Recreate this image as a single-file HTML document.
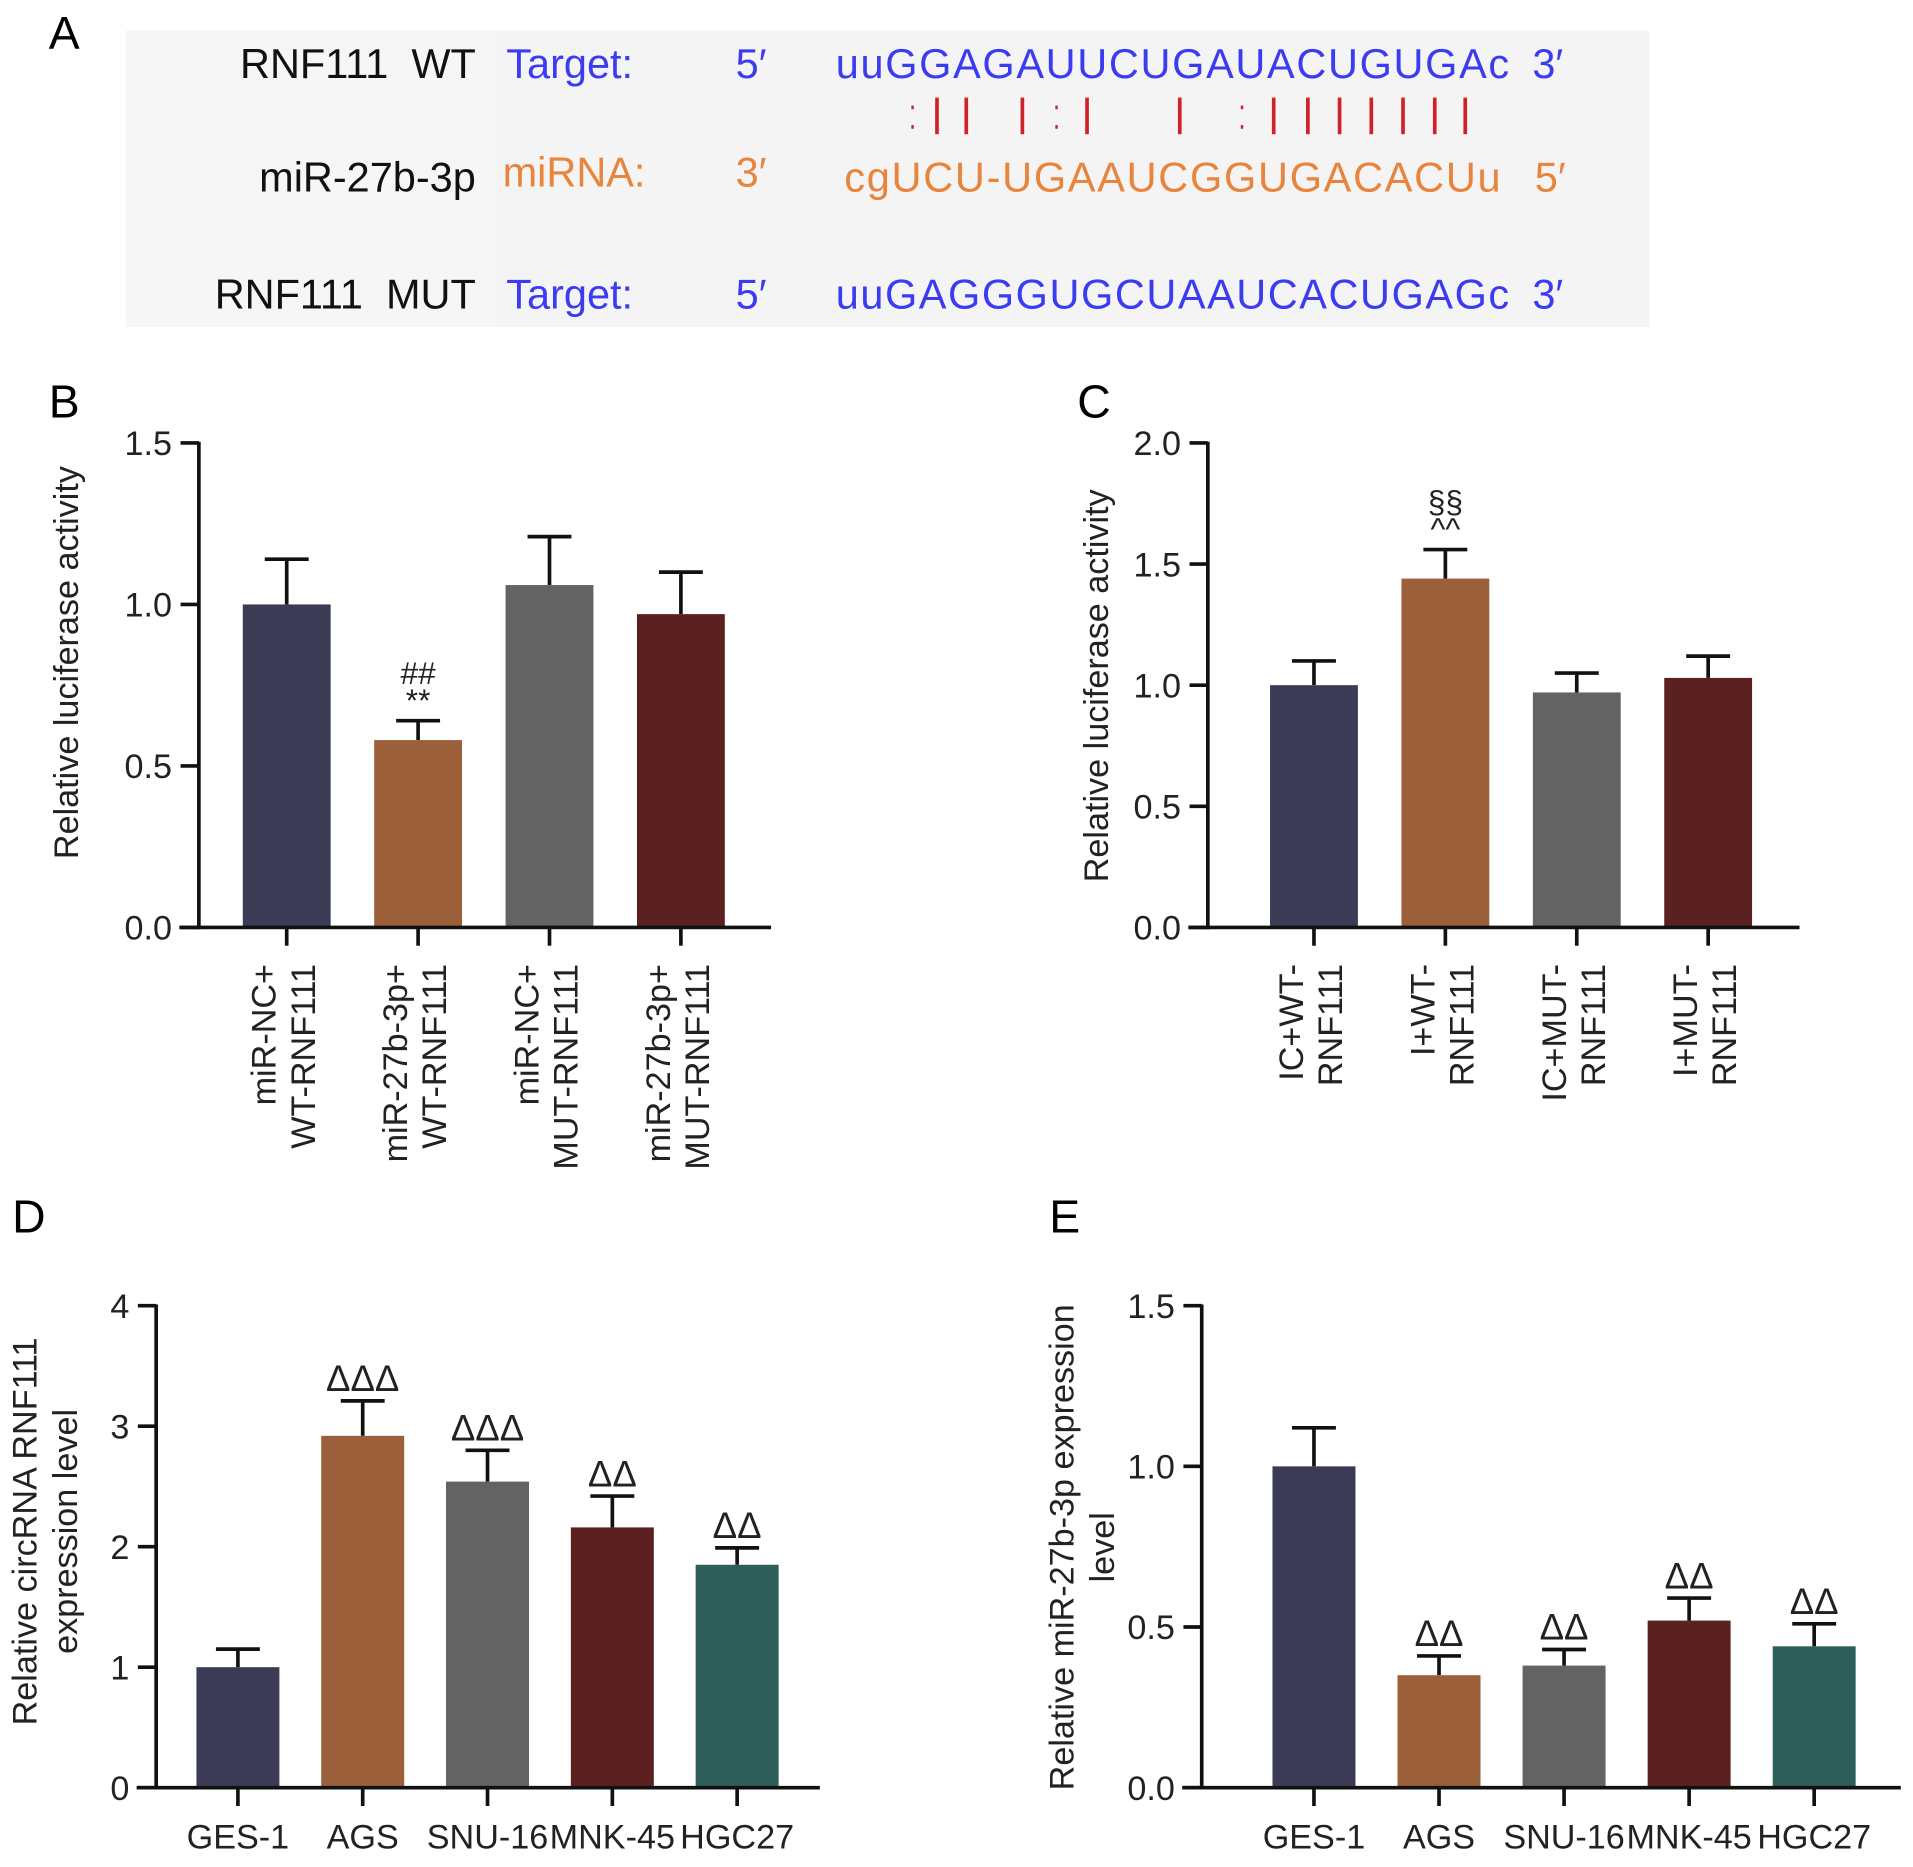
<!DOCTYPE html>
<html><head><meta charset="utf-8"><style>html,body{margin:0;padding:0;background:#fff}svg{display:block}text{font-family:"Liberation Sans",sans-serif}</style></head>
<body>
<svg id="fig" width="1913" height="1867" viewBox="0 0 1568 1530" preserveAspectRatio="none" xmlns="http://www.w3.org/2000/svg">
<g>
<text x="40" y="40" font-size="38">A</text>
<rect x="103" y="25" width="304" height="243" fill="#f6f6f6"/>
<rect x="407" y="25" width="945" height="243" fill="#f4f4f4"/>
<g font-size="34">
<text x="390" y="64" text-anchor="end" fill="#111">RNF111&#160;&#160;WT</text>
<text x="415" y="64" fill="#3b3bf0">Target:</text>
<text x="603" y="64" fill="#3b3bf0">5′</text>
<text x="685" y="64" fill="#3b3bf0" textLength="552">uuGGAGAUUCUGAUACUGUGAc</text>
<text x="1256" y="64" fill="#3b3bf0">3′</text>
<text x="390" y="157" text-anchor="end" fill="#111">miR-27b-3p</text>
<text x="412" y="153" fill="#e8843c">miRNA:</text>
<text x="603" y="153" fill="#e8843c">3′</text>
<text x="692" y="157" fill="#e8843c" textLength="538">cgUCU-UGAAUCGGUGACACUu</text>
<text x="1258" y="157" fill="#e8843c">5′</text>
<text x="390" y="253" text-anchor="end" fill="#111">RNF111&#160;&#160;MUT</text>
<text x="415" y="253" fill="#3b3bf0">Target:</text>
<text x="603" y="253" fill="#3b3bf0">5′</text>
<text x="685" y="253" fill="#3b3bf0" textLength="552">uuGAGGGUGCUAAUCACUGAGc</text>
<text x="1256" y="253" fill="#3b3bf0">3′</text>
</g>
<g id="pairs" stroke="#d0202a" stroke-width="3" fill="#d0202a"></g>
</g>
<g id="charts"></g>
</svg>
<script>
const NS='http://www.w3.org/2000/svg';
const svg=document.getElementById('fig');
function mk(tag,attrs,parent,txt){const e=document.createElementNS(NS,tag);for(const k in attrs)e.setAttribute(k,attrs[k]);if(txt!==undefined)e.textContent=txt;(parent||svg).appendChild(e);return e;}
const pairX=[748,768,792,838,866,891,967,1018,1044,1072,1098,1124,1150,1176,1201];
const pairType=[':','|','|','|',':','|','|',':','|','|','|','|','|','|','|'];
const pg=document.getElementById('pairs');
pairX.forEach((x,i)=>{if(pairType[i]==='|'){const l=mk('line',{x1:x,x2:x,y1:80,y2:110},pg);}else{[88,104].forEach(y=>{const c=mk('rect',{x:x-1,y:y-1.5,width:2,height:3,stroke:'none'},pg);});}});

const bCats=[['miR-NC+','WT-RNF111'],['miR-27b-3p+','WT-RNF111'],['miR-NC+','MUT-RNF111'],['miR-27b-3p+','MUT-RNF111']];
const bVals=[1.0,0.58,1.06,0.97];
const bErr=[0.14,0.06,0.15,0.13];
const bAnn=[[],['##','**'],[],[]];
const bTicks=['0.0','0.5','1.0','1.5'];
const cCats=[['IC+WT-','RNF111'],['I+WT-','RNF111'],['IC+MUT-','RNF111'],['I+MUT-','RNF111']];
const cVals=[1.0,1.44,0.97,1.03];
const cErr=[0.10,0.12,0.08,0.09];
const cAnn=[[],['§§','^^'],[],[]];
const cTicks=['0.0','0.5','1.0','1.5','2.0'];
const dCats=['GES-1','AGS','SNU-16','MNK-45','HGC27'];
const dVals=[1.0,2.92,2.54,2.16,1.85];
const dErr=[0.15,0.29,0.26,0.26,0.14];
const dAnn=[[],['ΔΔΔ'],['ΔΔΔ'],['ΔΔ'],['ΔΔ']];
const dTicks=['0','1','2','3','4'];
const eCats=['GES-1','AGS','SNU-16','MNK-45','HGC27'];
const eVals=[1.0,0.35,0.38,0.52,0.44];
const eErr=[0.12,0.06,0.05,0.07,0.07];
const eAnn=[[],['ΔΔ'],['ΔΔ'],['ΔΔ'],['ΔΔ']];
const eTicks=['0.0','0.5','1.0','1.5'];
const colors=['#3b3b55','#9b5f3a','#636363','#5b2020','#2e5e5a'];

function chart(o){
  const g=mk('g',{},document.getElementById('charts'));
  
  
  const ymax=parseFloat(o.ticks[o.ticks.length-1]);
  const y=v=>o.y0-(v/ymax)*(o.y0-o.y1);
  const x=i=>o.xStart+i*o.step;
  const lab=mk('text',{x:o.lx,y:o.ly,'font-size':38},g,o.id.toUpperCase());
  
  
  o.ticks.forEach(t=>{const v=parseFloat(t);
    const tk=mk('line',{x1:o.ax-15,x2:o.ax,y1:y(v),y2:y(v),stroke:'#111','stroke-width':3},g);
    
    const tl=mk('text',{x:o.ax-22,y:y(v)+10,'font-size':28,'text-anchor':'end',fill:'#222'},g,t);
    });
  o.vals.forEach((v,i)=>{const cx=x(i);
    const el=mk('line',{x1:cx,x2:cx,y1:y(v),y2:y(v+o.err[i]),stroke:'#111','stroke-width':3},g);
    
    const cap=mk('line',{x1:cx-18,x2:cx+18,y1:y(v+o.err[i]),y2:y(v+o.err[i]),stroke:'#111','stroke-width':3},g);
    
    const r=mk('rect',{x:cx-o.bw/2,y:y(v),width:o.bw,height:o.y0-y(v),fill:colors[i]},g);
    
    const ann=o.ann[i];
    ann.forEach((a,j)=>{const at=mk('text',{x:cx,y:y(v+o.err[i])-8-(ann.length-1-j)*22,'font-size':o.annSize,'text-anchor':'middle',fill:'#222'},g,a);
      });
    const xt=mk('line',{x1:cx,x2:cx,y1:o.y0,y2:o.y0+15,stroke:'#111','stroke-width':3},g);
    
    const c=o.cats[i];
    if(Array.isArray(c)){c.forEach((s,j)=>{const lx=cx-9+j*32;
      const t=mk('text',{x:lx,y:o.y0+30,'font-size':28,'text-anchor':'end',fill:'#222',transform:`rotate(-90 ${lx} ${o.y0+30})`},g,s);
      });}
    else{const t=mk('text',{x:cx,y:o.y0+50,'font-size':28,'text-anchor':'middle',fill:'#222'},g,c);
      }
  });
  const ya=mk('line',{x1:o.ax,x2:o.ax,y1:o.y1-1,y2:o.y0+1.5,stroke:'#111','stroke-width':3},g);
  
  const xa=mk('line',{x1:o.ax-16,x2:o.xEnd,y1:o.y0,y2:o.y0,stroke:'#111','stroke-width':3},g);
  
  o.title.forEach((s,j)=>{const tx=o.tx+j*33;
    const t=mk('text',{x:tx,y:o.ty,'font-size':28,'text-anchor':'middle',fill:'#222',transform:`rotate(-90 ${tx} ${o.ty})`},g,s);
    });
}
chart({id:'b',lx:40,ly:342,ax:163,y0:760,y1:363,xStart:235,step:107.7,xEnd:632,bw:72,cats:bCats,vals:bVals,err:bErr,ann:bAnn,ticks:bTicks,annSize:26,title:['Relative luciferase activity'],tx:64,ty:543});
chart({id:'c',lx:883,ly:342,ax:990,y0:760,y1:363,xStart:1077,step:107.7,xEnd:1475,bw:72,cats:cCats,vals:cVals,err:cErr,ann:cAnn,ticks:cTicks,annSize:26,title:['Relative luciferase activity'],tx:908,ty:562});
chart({id:'d',lx:10,ly:1010,ax:128,y0:1465,y1:1070,xStart:195,step:102.3,xEnd:672,bw:68,cats:dCats,vals:dVals,err:dErr,ann:dAnn,ticks:dTicks,annSize:30,title:['Relative circRNA RNF111','expression level'],tx:30,ty:1255});
chart({id:'e',lx:860,ly:1010,ax:985,y0:1465,y1:1070,xStart:1077,step:102.5,xEnd:1558,bw:68,cats:eCats,vals:eVals,err:eErr,ann:eAnn,ticks:eTicks,annSize:30,title:['Relative miR-27b-3p expression','level'],tx:880,ty:1268});
</script>
</body></html>
